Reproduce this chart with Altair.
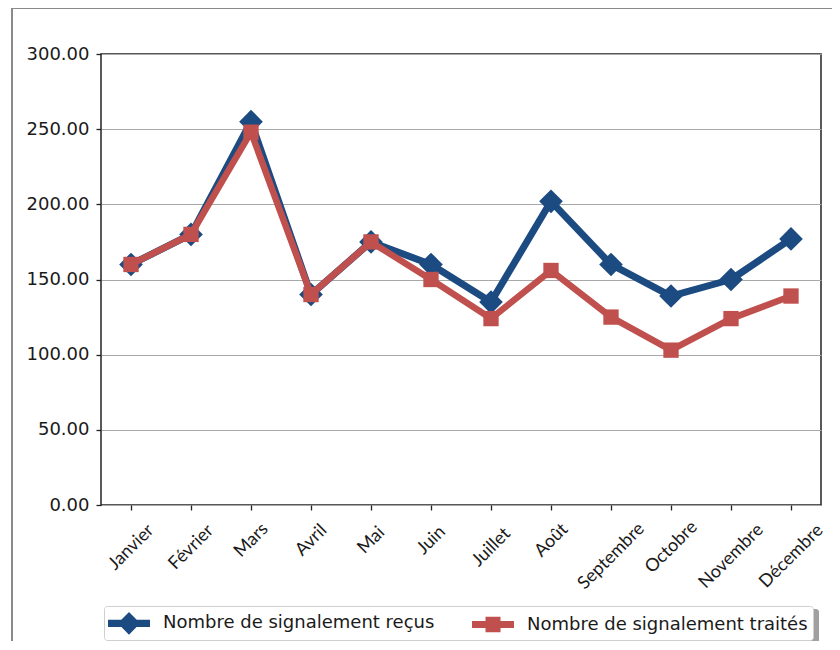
import altair as alt
import pandas as pd

mois = ["Janvier", "Février", "Mars", "Avril", "Mai", "Juin", "Juillet",
        "Août", "Septembre", "Octobre", "Novembre", "Décembre"]
recus = [160, 180, 255, 140, 175, 160, 135, 202, 160, 139, 150, 177]
traites = [160, 180, 248, 140, 175, 150, 124, 156, 125, 103, 124, 139]
series = ["Nombre de signalement reçus", "Nombre de signalement traités"]
couleurs = ["#1b4b80", "#c0504d"]
y_ticks = [0, 50, 100, 150, 200, 250, 300]

df = pd.DataFrame({
    "mois": mois * 2,
    "serie": [series[0]] * len(mois) + [series[1]] * len(mois),
    "valeur": recus + traites,
})
deco = pd.DataFrame({"k": [0]})

# legend symbols: line with marker (custom paths)
path_diamond = "M-1.083,-0.3H2.417V0.3H-1.083Z M0.667,-0.95L1.6,0L0.667,0.95L-0.27,0Z"
path_square = "M-1.083,-0.3H2.417V0.3H-1.083Z M0.042,-0.64H1.292V0.64H0.042Z"

x_enc = alt.X(
    "mois:N", sort=mois, title=None,
    scale=alt.Scale(type="point", padding=0.5),
    axis=alt.Axis(
        labelAngle=-45, labelAlign="center", labelBaseline="middle",
        labelFont="Lato", labelFontSize=18, labelColor="#1a1a1a",
        labelPadding={"condition": [
            {"test": "length(datum.label) >= 8", "value": 46},
            {"test": "length(datum.label) >= 6", "value": 37}],
            "value": 30},
        tickSize=5, tickWidth=1.3, tickColor="#222222",
        domain=False, grid=False, labelOverlap=False,
    ),
)
y_enc = alt.Y(
    "valeur:Q", title=None,
    scale=alt.Scale(domain=[0, 300], nice=False),
    axis=alt.Axis(
        values=y_ticks, format=".2f", labelFont="DejaVu Sans", labelFontSize=18,
        labelColor="#1a1a1a", labelPadding=7, tickSize=5, tickWidth=1.3,
        tickColor="#222222", domain=False, grid=True, gridColor="#a8a8a8",
        gridWidth=1.2,
    ),
)

base = alt.Chart(df)

line_blue = base.transform_filter(alt.datum.serie == series[0]).mark_line(
    color=couleurs[0], strokeWidth=7, strokeJoin="round").encode(x=x_enc, y=y_enc)
pts_blue = base.transform_filter(alt.datum.serie == series[0]).mark_point(
    shape="diamond", filled=True, size=560, opacity=1, color=couleurs[0]).encode(x=x_enc, y=y_enc)
line_red = base.transform_filter(alt.datum.serie == series[1]).mark_line(
    color=couleurs[1], strokeWidth=6.5, strokeJoin="round").encode(x=x_enc, y=y_enc)
pts_red = base.transform_filter(alt.datum.serie == series[1]).mark_point(
    shape="square", filled=True, size=235, opacity=1, color=couleurs[1]).encode(x=x_enc, y=y_enc)

legend_props = dict(
    title=None, orient="none", legendX=3, legendY=552, direction="horizontal",
    padding=5, columnPadding=37, labelOffset=30, labelFont="DejaVu Sans",
    labelFontSize=18, labelColor="#1a1a1a", labelLimit=400, symbolSize=576,
    symbolStrokeWidth=0, symbolOpacity=1, strokeColor="#cfcfcf",
    fillColor="white", cornerRadius=3,
)

dummy = base.transform_filter("false").mark_point(filled=True, size=576).encode(
    x=x_enc, y=y_enc,
    color=alt.Color("serie:N", scale=alt.Scale(domain=series, range=couleurs),
                    legend=alt.Legend(**legend_props)),
    shape=alt.Shape("serie:N", scale=alt.Scale(domain=series, range=[path_diamond, path_square]),
                    legend=alt.Legend(**legend_props)),
)

frame_left = alt.Chart(deco).mark_rule(color="#8a8a8a", strokeWidth=2).encode(
    x=alt.value(-89), y=alt.value(-47), y2=alt.value(620))
frame_top = alt.Chart(deco).mark_rule(color="#8a8a8a", strokeWidth=2).encode(
    x=alt.value(-90), x2=alt.value(760), y=alt.value(-46))
shadow = alt.Chart(deco).mark_rect(color="#a0a0a0", cornerRadius=3).encode(
    x=alt.value(6), x2=alt.value(718), y=alt.value(555), y2=alt.value(589))

chart = alt.layer(
    frame_left, frame_top, shadow, line_blue, pts_blue, line_red, pts_red, dummy
).properties(
    width=720, height=451,
    autosize=alt.AutoSizeParams(type="none"),
    padding={"left": 93, "top": 46, "right": 11, "bottom": 136},
    background="white",
).configure_view(
    stroke="#222222", strokeWidth=1.5,
)

chart.save("out.html", embed_options={"renderer": "svg", "actions": False})
